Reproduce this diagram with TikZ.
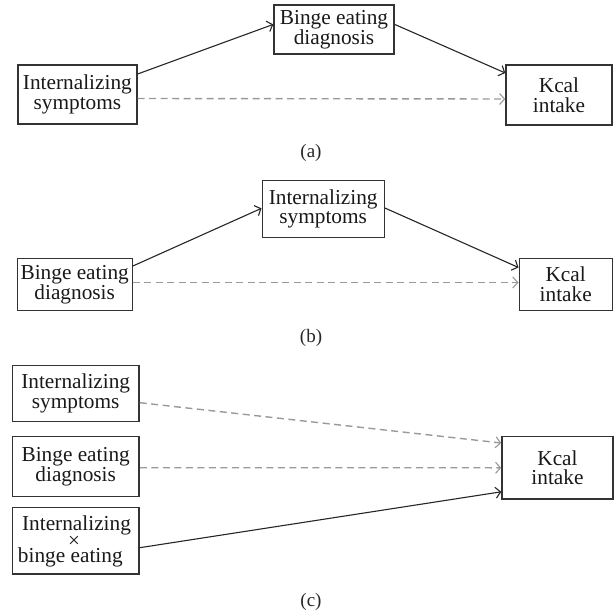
\documentclass[tikz,border=0pt]{standalone}
\usepackage{fontspec}
\setmainfont{Liberation Serif}
\usetikzlibrary{arrows.meta}
\begin{document}
\begin{tikzpicture}[x=1pt,y=-1pt,
 box/.style={draw=black!80, line width=1.4pt, rectangle, inner sep=0pt, align=center, text=black!90,
   font=\fontsize{21.3}{19.8}\selectfont},
 txt/.style={inner sep=0pt, text=black!90, font=\fontsize{21.3}{19.8}\selectfont},
 solidarrow/.style={draw=black!85, line width=1.1pt, -{Straight Barb[length=5pt,width=11pt,line width=1.1pt]}},
 dasharrow/.style={draw=black!40, line width=1.4pt, dash pattern=on 7pt off 4.5pt, -{Straight Barb[length=5pt,width=11pt,line width=1.1pt]}},
 caption/.style={inner sep=0pt, text=black!85, font=\fontsize{19}{21}\selectfont}
]
\useasboundingbox (0,0) rectangle (616,615);

% ---------- panel (a) ----------
\node[box, minimum width=119pt, minimum height=59pt] (Ais) at (77.4,94.5) {Internalizing\\symptoms};
\node[box, minimum width=120pt, minimum height=49pt] (Abd) at (334,29.4) {Binge eating\\diagnosis};
\node[box, minimum width=106pt, minimum height=60pt] (Ak) at (559,95) {Kcal\\intake};
\draw[solidarrow] ([yshift=20.5pt]Ais.east) -- ([yshift=5pt]Abd.west);
\draw[solidarrow] ([yshift=5pt]Abd.east) -- ([yshift=22pt]Ak.west);
\draw[dasharrow] ([yshift=-4pt]Ais.east) -- ([yshift=-4pt]Ak.west);
\node[caption] (capa) at (311,153) {(a)};

% ---------- panel (b) ----------
\node[box, minimum width=115pt, minimum height=52pt] (Bbd) at (74.7,284.5) {Binge eating\\diagnosis};
\node[box, minimum width=122pt, minimum height=56.5pt] (Bis) at (323.2,209) {Internalizing\\symptoms};
\node[box, minimum width=93pt, minimum height=52pt] (Bk) at (565.7,284.5) {Kcal\\intake};
\draw[solidarrow] ([yshift=18.5pt]Bbd.east) -- ([yshift=0.7pt]Bis.west);
\draw[solidarrow] ([yshift=1pt]Bis.east) -- ([yshift=17pt]Bk.west);
\draw[dasharrow] ([yshift=2pt]Bbd.east) -- ([yshift=2pt]Bk.west);
\node[caption] (capb) at (311,338) {(b)};

% ---------- panel (c) ----------
\node[box, minimum width=126.7pt, minimum height=56pt] (Cis) at (75.7,393.7) {Internalizing\\symptoms};
\node[box, minimum width=126.7pt, minimum height=60pt] (Cbd) at (75.7,466.7) {Binge eating\\diagnosis};
\node[box, minimum width=126.7pt, minimum height=66.7pt] (Cx) at (75.7,540.7) {};
\node[txt, anchor=base] (Cxa) at (76.5,530.5) {Internalizing};
\node[txt, anchor=center, font=\fontsize{21}{21}\selectfont] (Cxb) at (74,541.7) {×};
\node[txt, anchor=base] (Cxc) at (70.3,562.5) {binge eating};
\node[box, minimum width=111pt, minimum height=62.3pt] (Ck) at (557.5,467.8) {Kcal\\intake};
\draw[dasharrow] ([yshift=-9pt]Cis.east) -- ([yshift=24.8pt]Ck.west);
\draw[dasharrow] ([yshift=-1pt]Cbd.east) -- ([yshift=0pt]Ck.west);
\draw[solidarrow] ([yshift=-7pt]Cx.east) -- ([yshift=-24pt]Ck.west);
\node[caption] (capc) at (311,601.7) {(c)};
\end{tikzpicture}
\end{document}
